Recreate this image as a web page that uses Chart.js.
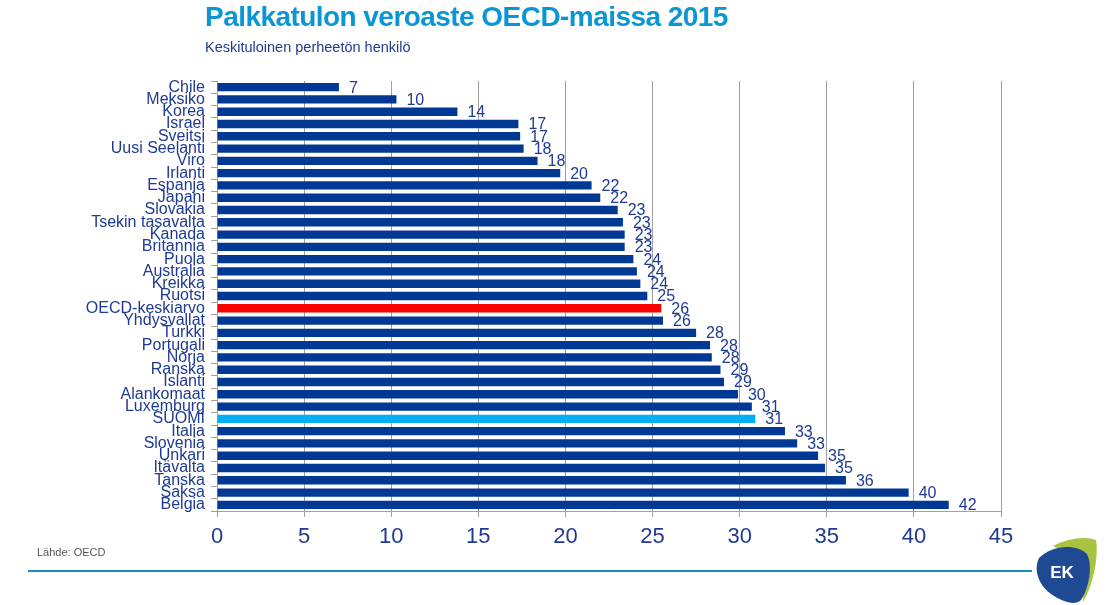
<!DOCTYPE html>
<html>
<head>
<meta charset="utf-8">
<script src="https://cdn.jsdelivr.net/npm/chart.js@4/dist/chart.umd.min.js"></script>
<style>
  body { margin: 0; background: #fff; font-family: Arial, "Liberation Sans", sans-serif; }
  #wrap { position: relative; width: 1110px; height: 605px; overflow: hidden; }
  #title { position: absolute; left: 205px; top: 1px; font-size: 28px; font-weight: bold; color: #0a96d4; letter-spacing: -0.55px; white-space: nowrap; }
  #sub { position: absolute; left: 205px; top: 39px; font-size: 14.5px; color: #1f3a93; white-space: nowrap; }
  #src { position: absolute; left: 37px; top: 546px; font-size: 11px; color: #555; }
  #rule { position: absolute; left: 28px; top: 570px; width: 1004px; height: 2px; background: #1a8cc4; }
  #logo { position: absolute; left: 1033px; top: 536px; }
  #c { position: absolute; left: 0; top: 0; }
</style>
</head>
<body>
<div id="wrap">
  <canvas id="c" width="1110" height="605"></canvas>
  <div id="title">Palkkatulon veroaste OECD-maissa 2015</div>
  <div id="sub">Keskituloinen perheetön henkilö</div>
  <div id="src">Lähde: OECD</div>
  <div id="rule"></div>
  <svg id="logo" width="66" height="68" viewBox="0 0 66 68">
    <path d="M20 10 C34 2 54 0 63 4 C66 20 60 50 50 66 C52 40 40 20 20 10 Z" fill="#a9c23f"/>
    <path d="M6 22 C20 8 44 8 54 18 C60 30 56 52 48 64 C42 70 30 66 18 58 C6 50 0 34 6 22 Z" fill="#1e4a94"/>
    <text x="29" y="42" font-family="Arial" font-weight="bold" font-size="17" fill="#fff" text-anchor="middle">EK</text>
  </svg>
</div>
<script>
const countries = ["Chile", "Meksiko", "Korea", "Israel", "Sveitsi", "Uusi Seelanti", "Viro", "Irlanti", "Espanja", "Japani", "Slovakia", "Tsekin tasavalta", "Kanada", "Britannia", "Puola", "Australia", "Kreikka", "Ruotsi", "OECD-keskiarvo", "Yhdysvallat", "Turkki", "Portugali", "Norja", "Ranska", "Islanti", "Alankomaat", "Luxemburg", "SUOMI", "Italia", "Slovenia", "Unkari", "Itävalta", "Tanska", "Saksa", "Belgia"]
const taxRate = [7.0, 10.3, 13.8, 17.3, 17.4, 17.6, 18.4, 19.7, 21.5, 22.0, 23.0, 23.3, 23.4, 23.4, 23.9, 24.1, 24.3, 24.7, 25.5, 25.6, 27.5, 28.3, 28.4, 28.9, 29.1, 29.9, 30.7, 30.9, 32.6, 33.3, 34.5, 34.9, 36.1, 39.7, 42.0]
const xTicks = [0, 5, 10, 15, 20, 25, 30, 35, 40, 45]

const navy = '#003893'
const textBlue = '#1f3a93'
const barColors = countries.map(c => c == 'OECD-keskiarvo' ? '#ff0000' : (c == 'SUOMI' ? '#00b0f0' : navy))

const valueLabels = {
  id: 'valueLabels',
  afterDatasetsDraw(chart) {
    const ctx = chart.ctx
    const meta = chart.getDatasetMeta(0)
    ctx.save()
    ctx.font = '16px Arial, "Liberation Sans"'
    ctx.fillStyle = textBlue
    ctx.textBaseline = 'middle'
    meta.data.forEach((bar, i) => {
      ctx.fillText(Math.round(taxRate[i]), bar.x + 10, bar.y + 1)
    })
    ctx.restore()
  }
}

new Chart(document.getElementById('c'), {
  type: 'bar',
  data: {
    labels: countries,
    datasets: [{
      data: taxRate,
      backgroundColor: barColors,
      barPercentage: 0.68,
      categoryPercentage: 1
    }]
  },
  options: {
    indexAxis: 'y',
    responsive: false,
    animation: false,
    layout: { padding: { left: 0, right: 109, top: 81, bottom: 48 } },
    plugins: { legend: { display: false }, tooltip: { enabled: false } },
    scales: {
      x: {
        min: 0,
        max: 45,
        afterBuildTicks(scale) { scale.ticks = xTicks.map(v => ({ value: v })) },
        afterFit(scale) { scale.height = 46 },
        grid: { color: '#a0a0a0', tickLength: 6 },
        border: { color: '#a0a0a0' },
        ticks: { color: textBlue, padding: 7, font: { size: 22, family: 'Arial' } }
      },
      y: {
        afterFit(scale) { scale.width = 217 },
        grid: { drawOnChartArea: false, color: '#a0a0a0', tickLength: 6, offset: true },
        border: { color: '#a0a0a0' },
        ticks: { color: textBlue, padding: 6, autoSkip: false, font: { size: 16, family: 'Arial' } }
      }
    }
  },
  plugins: [valueLabels]
})
</script>
</body>
</html>
